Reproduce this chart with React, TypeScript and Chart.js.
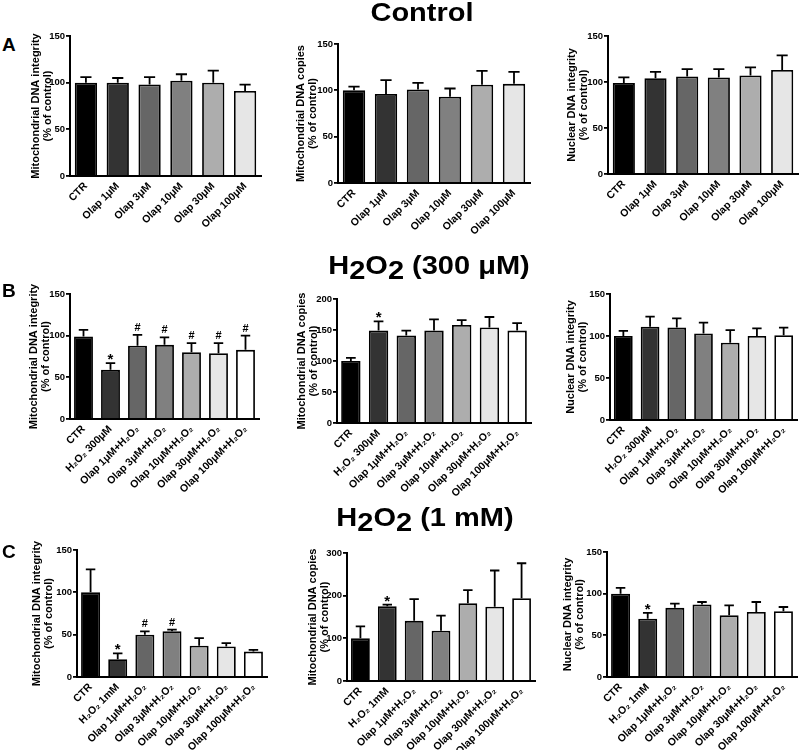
import React, { useEffect, useRef } from 'react';
import { Chart, registerables } from 'chart.js';

Chart.register(...registerables);

const FONT = '"Liberation Sans", Arial, Helvetica, "DejaVu Sans", sans-serif';

// ---------- categories ----------
const controlCategories = ['CTR', 'Olap 1μM', 'Olap 3μM', 'Olap 10μM', 'Olap 30μM', 'Olap 100μM'];
const h300Categories = ['CTR', 'H₂O₂ 300μM', 'Olap 1μM+H₂O₂', 'Olap 3μM+H₂O₂', 'Olap 10μM+H₂O₂', 'Olap 30μM+H₂O₂', 'Olap 100μM+H₂O₂'];
const h1mCategories = ['CTR', 'H₂O₂ 1mM', 'Olap 1μM+H₂O₂', 'Olap 3μM+H₂O₂', 'Olap 10μM+H₂O₂', 'Olap 30μM+H₂O₂', 'Olap 100μM+H₂O₂'];

// ---------- colours ----------
const controlColors = ['#000000', '#333333', '#666666', '#808080', '#adadad', '#e6e6e6'];
const treatColors = ['#000000', '#333333', '#666666', '#808080', '#adadad', '#e6e6e6', '#ffffff'];

// ---------- axis titles ----------
const titleMitoIntegrity = ['Mitochondrial DNA integrity', '(% of control)'];
const titleMitoCopies = ['Mitochondrial DNA copies', '(% of control)'];
const titleNuclear = ['Nuclear DNA integrity', '(% of control)'];

// ---------- Row A: Control ----------
const ctrlMitoIntegrity = [100, 100, 98, 102, 100, 91];
const ctrlMitoIntegrityErr = [6, 5, 8, 7, 13, 7];
const ctrlMitoIntegrityMarks = ['', '', '', '', '', ''];
const ctrlMitoCopies = [100, 96, 101, 93, 106, 107];
const ctrlMitoCopiesErr = [4, 15, 7, 9, 15, 13];
const ctrlMitoCopiesMarks = ['', '', '', '', '', ''];
const ctrlNuclear = [99, 104, 106, 105, 107, 113];
const ctrlNuclearErr = [6, 7, 8, 9, 9, 16];
const ctrlNuclearMarks = ['', '', '', '', '', ''];

// ---------- Row B: H2O2 300 µM ----------
const h300MitoIntegrity = [99, 59, 88, 89, 80, 79, 83];
const h300MitoIntegrityErr = [8, 8, 13, 9, 11, 12, 17];
const h300MitoIntegrityMarks = ['', '*', '#', '#', '#', '#', '#'];
const h300MitoCopies = [100, 149, 141, 149, 158, 154, 149];
const h300MitoCopiesErr = [5, 15, 8, 18, 8, 17, 12];
const h300MitoCopiesMarks = ['', '*', '', '', '', '', ''];
const h300Nuclear = [100, 111, 110, 103, 92, 100, 101];
const h300NuclearErr = [6, 12, 11, 13, 15, 9, 9];
const h300NuclearMarks = ['', '', '', '', '', '', ''];

// ---------- Row C: H2O2 1 mM ----------
const h1mMitoIntegrity = [100, 21, 50, 54, 37, 36, 30];
const h1mMitoIntegrityErr = [27, 7, 4, 2, 9, 4, 2];
const h1mMitoIntegrityMarks = ['', '*', '#', '#', '', '', ''];
const h1mMitoCopies = [100, 175, 141, 118, 182, 174, 194];
const h1mMitoCopiesErr = [28, 4, 51, 35, 31, 85, 82];
const h1mMitoCopiesMarks = ['', '*', '', '', '', '', ''];
const h1mNuclear = [100, 70, 83, 87, 74, 78, 79];
const h1mNuclearErr = [7, 7, 5, 3, 12, 12, 5];
const h1mNuclearMarks = ['', '*', '', '', '', '', ''];

// ---------- panel layout ----------
type PanelCfg = {
  labels: string[];
  values: number[];
  errors: number[];
  marks: string[];
  colors: string[];
  title: string[];
  max: number;
  step: number;
  plot: { left: number; top: number; right: number; bottom: number };
  titleOff: number;
};

const panels: PanelCfg[] = [
  { labels: controlCategories, values: ctrlMitoIntegrity, errors: ctrlMitoIntegrityErr, marks: ctrlMitoIntegrityMarks, colors: controlColors, title: titleMitoIntegrity, max: 150, step: 50, plot: { left: 70, top: 36, right: 261, bottom: 176 }, titleOff: 34 },
  { labels: controlCategories, values: ctrlMitoCopies, errors: ctrlMitoCopiesErr, marks: ctrlMitoCopiesMarks, colors: controlColors, title: titleMitoCopies, max: 150, step: 50, plot: { left: 338, top: 44, right: 530, bottom: 183 }, titleOff: 37 },
  { labels: controlCategories, values: ctrlNuclear, errors: ctrlNuclearErr, marks: ctrlNuclearMarks, colors: controlColors, title: titleNuclear, max: 150, step: 50, plot: { left: 608, top: 36, right: 798, bottom: 174 }, titleOff: 36 },
  { labels: h300Categories, values: h300MitoIntegrity, errors: h300MitoIntegrityErr, marks: h300MitoIntegrityMarks, colors: treatColors, title: titleMitoIntegrity, max: 150, step: 50, plot: { left: 70, top: 294, right: 259, bottom: 419 }, titleOff: 36 },
  { labels: h300Categories, values: h300MitoCopies, errors: h300MitoCopiesErr, marks: h300MitoCopiesMarks, colors: treatColors, title: titleMitoCopies, max: 200, step: 50, plot: { left: 337, top: 299, right: 531, bottom: 423 }, titleOff: 35 },
  { labels: h300Categories, values: h300Nuclear, errors: h300NuclearErr, marks: h300NuclearMarks, colors: treatColors, title: titleNuclear, max: 150, step: 50, plot: { left: 610, top: 294, right: 797, bottom: 420 }, titleOff: 39 },
  { labels: h1mCategories, values: h1mMitoIntegrity, errors: h1mMitoIntegrityErr, marks: h1mMitoIntegrityMarks, colors: treatColors, title: titleMitoIntegrity, max: 150, step: 50, plot: { left: 77, top: 550, right: 267, bottom: 677 }, titleOff: 40 },
  { labels: h1mCategories, values: h1mMitoCopies, errors: h1mMitoCopiesErr, marks: h1mMitoCopiesMarks, colors: treatColors, title: titleMitoCopies, max: 300, step: 100, plot: { left: 347, top: 553, right: 535, bottom: 681 }, titleOff: 34 },
  { labels: h1mCategories, values: h1mNuclear, errors: h1mNuclearErr, marks: h1mNuclearMarks, colors: treatColors, title: titleNuclear, max: 150, step: 50, plot: { left: 607, top: 552, right: 797, bottom: 677 }, titleOff: 39 },
];

const PAD_TOP = 16;
const Y_W = 50;
const X_H = 80;
const PAD_RIGHT = 3;

function Panel({ cfg }: { cfg: PanelCfg }) {
  const ref = useRef<HTMLCanvasElement>(null);
  const { plot } = cfg;
  const width = plot.right - plot.left + Y_W + PAD_RIGHT;
  const height = plot.bottom - plot.top + PAD_TOP + X_H;

  useEffect(() => {
    if (!ref.current) return;
    const errorPlugin = {
      id: 'errorBars',
      afterDatasetsDraw(chart: any) {
        const meta = chart.getDatasetMeta(0);
        const ys = chart.scales.y;
        const ctx = chart.ctx;
        const vals = chart.data.datasets[0].data as number[];
        ctx.save();
        ctx.strokeStyle = '#000';
        ctx.fillStyle = '#000';
        ctx.lineWidth = 1.8;
        meta.data.forEach((bar: any, i: number) => {
          const v = vals[i];
          const e = cfg.errors[i];
          const yBar = ys.getPixelForValue(v);
          const yTop = ys.getPixelForValue(v + e);
          const half = Math.max(4, bar.width * 0.25);
          ctx.beginPath();
          ctx.moveTo(bar.x, yBar);
          ctx.lineTo(bar.x, yTop);
          ctx.moveTo(bar.x - half, yTop);
          ctx.lineTo(bar.x + half, yTop);
          ctx.stroke();
          const m = cfg.marks[i];
          if (m) {
            ctx.textAlign = 'center';
            ctx.textBaseline = 'alphabetic';
            if (m === '*') {
              ctx.font = `bold 15px ${FONT}`;
              ctx.fillText(m, bar.x, yTop + 1);
            } else {
              ctx.font = `bold 11px ${FONT}`;
              ctx.fillText(m, bar.x, yTop - 4);
            }
          }
        });
        ctx.restore();
      },
    };

    const chart = new Chart(ref.current, {
      type: 'bar',
      data: {
        labels: cfg.labels,
        datasets: [
          {
            data: cfg.values,
            backgroundColor: cfg.colors,
            borderColor: '#000',
            borderWidth: 1.8,
            barPercentage: 0.7,
            categoryPercentage: 1.0,
          },
        ],
      },
      options: {
        animation: false,
        responsive: false,
        maintainAspectRatio: false,
        layout: { padding: { top: PAD_TOP, right: PAD_RIGHT, left: 0, bottom: 0 } },
        plugins: { legend: { display: false }, tooltip: { enabled: false } },
        scales: {
          x: {
            grid: { display: false, drawTicks: false },
            border: { display: true, color: '#000', width: 2 },
            ticks: {
              color: '#000',
              font: { family: FONT, size: 10.5, weight: 'bold' },
              maxRotation: 45,
              minRotation: 45,
              autoSkip: false,
              padding: 4,
            },
            afterFit: (s: any) => {
              s.height = X_H;
            },
          },
          y: {
            min: 0,
            max: cfg.max,
            grid: { display: true, drawOnChartArea: false, drawTicks: true, tickLength: 4, color: '#000', lineWidth: 1.8 },
            border: { display: true, color: '#000', width: 2 },
            ticks: {
              stepSize: cfg.step,
              color: '#000',
              font: { family: FONT, size: 9.5, weight: 'bold' },
              padding: 1,
            },
            title: {
              display: true,
              text: cfg.title,
              color: '#000',
              font: { family: FONT, size: 11, weight: 'bold', lineHeight: 1.1 },
              padding: { top: Y_W - 6 - cfg.titleOff, bottom: 0 },
            },
            afterFit: (s: any) => {
              s.width = Y_W;
            },
          },
        },
      } as any,
      plugins: [errorPlugin],
    });
    return () => chart.destroy();
  }, []);

  return (
    <canvas
      ref={ref}
      width={width}
      height={height}
      style={{ position: 'absolute', left: plot.left - Y_W, top: plot.top - PAD_TOP, width, height }}
    />
  );
}

const titleStyle = (top: number, center: number): React.CSSProperties => ({
  position: 'absolute',
  left: 0,
  width: center * 2,
  top,
  textAlign: 'center',
  fontFamily: FONT,
  fontWeight: 'bold',
  fontSize: 25,
  lineHeight: '25px',
  color: '#000',
  transform: 'scaleX(1.16)',
  whiteSpace: 'nowrap',
});

const letterStyle = (top: number): React.CSSProperties => ({
  position: 'absolute',
  left: 2,
  top,
  fontFamily: FONT,
  fontWeight: 'bold',
  fontSize: 19,
  lineHeight: '19px',
  color: '#000',
});

const sub: React.CSSProperties = { position: 'relative', top: 5 };

export default function App() {
  return (
    <div style={{ position: 'absolute', left: 0, top: 0, width: 800, height: 750, overflow: 'hidden', background: '#fff' }}>
      {panels.map((p, i) => (
        <Panel key={i} cfg={p} />
      ))}
      <div style={titleStyle(0, 422)}>Control</div>
      <div style={titleStyle(253, 429)}>
        H<span style={sub}>2</span>O<span style={sub}>2</span> (300 μM)
      </div>
      <div style={titleStyle(505, 425)}>
        H<span style={sub}>2</span>O<span style={sub}>2</span> (1 mM)
      </div>
      <div style={letterStyle(35)}>A</div>
      <div style={letterStyle(281)}>B</div>
      <div style={letterStyle(542)}>C</div>
    </div>
  );
}
